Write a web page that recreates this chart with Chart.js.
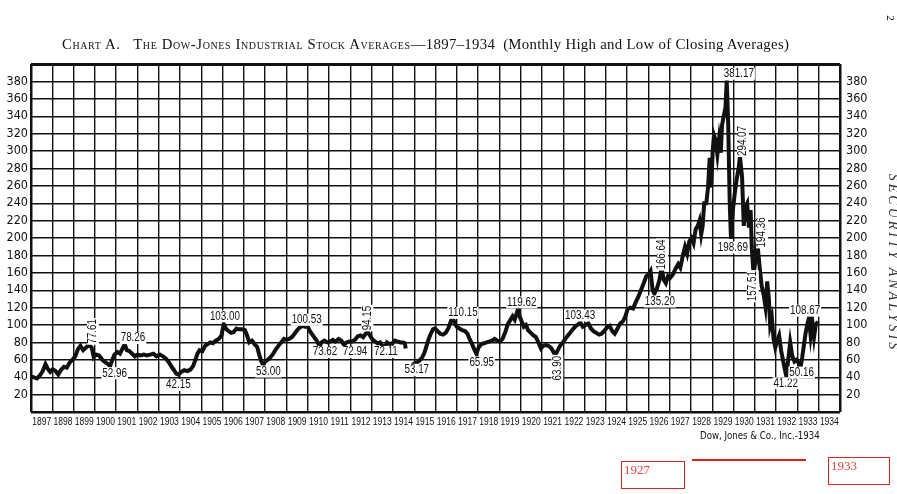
<!DOCTYPE html>
<html>
<head>
<meta charset="utf-8">
<script src="https://cdn.jsdelivr.net/npm/chart.js@4"></script>
<style>
  body { margin: 0; background: #fff; }
  #caixa { position: absolute; left: 0; top: 0; width: 897px; height: 494px; }
  #titulo { position: absolute; left: 62px; top: 36px; font: 14.8px 'Liberation Serif', serif; white-space: nowrap; color: #111; letter-spacing: 0.3px; }
  #titulo .sc { font-variant: small-caps; letter-spacing: 0.6px; }
  #fonte { position: absolute; left: 700px; top: 430px; font: 9.6px 'DejaVu Sans Condensed', sans-serif; color: #111; }
  #livro { position: absolute; left: 893px; top: 263px; transform: translate(-50%, -50%) rotate(90deg); font: italic 14px 'Liberation Serif', serif; letter-spacing: 3px; white-space: nowrap; color: #333; }
  #pag { position: absolute; left: 888px; top: 12px; font: 11px 'Liberation Serif', serif; transform: rotate(90deg); }
  .verm { position: absolute; border: 1.5px solid #d22; color: #d44; font: 13px 'Liberation Serif', serif; line-height: 13px; padding: 1px 2px; box-sizing: border-box; }
  #linha { position: absolute; left: 692px; top: 459px; width: 114px; height: 1.5px; background: #d22; }
</style>
</head>
<body>
<div id="caixa"><canvas id="meuGrafico"></canvas></div>
<div id="titulo"><span class="sc">Chart A.&nbsp;&nbsp; The Dow-Jones Industrial Stock Averages</span>—1897–1934&nbsp; (Monthly High and Low of Closing Averages)</div>
<div id="fonte">Dow, Jones &amp; Co., Inc.-1934</div>
<div id="livro">SECURITY ANALYSIS</div>
<div id="pag">2</div>
<div class="verm" style="left:621px;top:461px;width:64px;height:28px;">1927</div>
<div id="linha"></div>
<div class="verm" style="left:828px;top:457px;width:62px;height:28px;">1933</div>
<script>
// eixo y: 0 ate 400, rotulos de 20 em 20
var yMin = 0, yMax = 400
var anoIni = 1897, anoFim = 1935

// datas em ano decimal e fechamento (null = bolsa fechada em 1914)
var anos = [
  1897.00, 1897.12, 1897.28, 1897.42, 1897.55, 1897.68, 1897.78, 1897.90,
  1898.02, 1898.15, 1898.28, 1898.40, 1898.55, 1898.68, 1898.82, 1898.95,
  1899.08, 1899.20, 1899.32, 1899.45, 1899.58, 1899.72, 1899.85, 1899.95,
  1900.05, 1900.20, 1900.35, 1900.50, 1900.62, 1900.72, 1900.82, 1900.92,
  1901.05, 1901.18, 1901.32, 1901.40, 1901.50, 1901.62, 1901.75, 1901.88,
  1902.00, 1902.15, 1902.30, 1902.45, 1902.60, 1902.75, 1902.90,
  1903.05, 1903.20, 1903.35, 1903.48, 1903.60, 1903.72, 1903.82, 1903.92,
  1904.05, 1904.20, 1904.35, 1904.50, 1904.62, 1904.72, 1904.82, 1904.92,
  1905.05, 1905.18, 1905.30, 1905.42, 1905.55, 1905.68, 1905.82, 1905.95,
  1906.05, 1906.15, 1906.28, 1906.40, 1906.52, 1906.65, 1906.78, 1906.92,
  1907.05, 1907.15, 1907.25, 1907.38, 1907.50, 1907.62, 1907.72, 1907.82, 1907.90,
  1908.00, 1908.12, 1908.25, 1908.38, 1908.50, 1908.62, 1908.75, 1908.88,
  1909.00, 1909.12, 1909.25, 1909.38, 1909.50, 1909.62, 1909.75, 1909.88,
  1910.00, 1910.08, 1910.18, 1910.30, 1910.42, 1910.55, 1910.65, 1910.78, 1910.92,
  1911.05, 1911.18, 1911.30, 1911.45, 1911.58, 1911.70, 1911.82, 1911.95,
  1912.08, 1912.22, 1912.35, 1912.48, 1912.60, 1912.72, 1912.82, 1912.92,
  1913.02, 1913.15, 1913.28, 1913.40, 1913.50, 1913.60, 1913.72, 1913.85, 1913.98,
  1914.10, 1914.22, 1914.35, 1914.48, 1914.56, 1914.60, 1914.75, 1914.92,
  1915.02, 1915.15, 1915.28, 1915.38, 1915.48, 1915.58, 1915.68, 1915.78, 1915.88, 1915.98,
  1916.10, 1916.22, 1916.35, 1916.48, 1916.60, 1916.72, 1916.80, 1916.90,
  1917.00, 1917.12, 1917.25, 1917.38, 1917.50, 1917.60, 1917.72, 1917.82, 1917.92,
  1918.02, 1918.15, 1918.28, 1918.40, 1918.52, 1918.65, 1918.78, 1918.90,
  1919.02, 1919.15, 1919.28, 1919.40, 1919.52, 1919.62, 1919.72, 1919.82, 1919.88, 1919.95,
  1920.05, 1920.15, 1920.25, 1920.35, 1920.48, 1920.60, 1920.72, 1920.85, 1920.95,
  1921.05, 1921.18, 1921.30, 1921.42, 1921.52, 1921.62, 1921.72, 1921.85, 1921.98,
  1922.10, 1922.22, 1922.35, 1922.48, 1922.60, 1922.72, 1922.80, 1922.92,
  1923.05, 1923.18, 1923.30, 1923.42, 1923.55, 1923.68, 1923.80, 1923.92,
  1924.05, 1924.18, 1924.30, 1924.42, 1924.55, 1924.68, 1924.80, 1924.92,
  1925.02, 1925.15, 1925.28, 1925.40, 1925.52, 1925.65, 1925.78, 1925.90,
  1926.00, 1926.10, 1926.20, 1926.28, 1926.40, 1926.52, 1926.62, 1926.72, 1926.82, 1926.92,
  1927.02, 1927.15, 1927.28, 1927.40, 1927.50, 1927.62, 1927.72, 1927.82, 1927.92,
  1928.02, 1928.12, 1928.22, 1928.32, 1928.40, 1928.48, 1928.55, 1928.62, 1928.72, 1928.80, 1928.88, 1928.95,
  1929.02, 1929.08, 1929.16, 1929.24, 1929.32, 1929.40, 1929.46, 1929.54, 1929.62, 1929.68, 1929.75, 1929.82, 1929.88, 1929.96,
  1930.05, 1930.15, 1930.25, 1930.30, 1930.40, 1930.48, 1930.56, 1930.64, 1930.72, 1930.80, 1930.86, 1930.94,
  1931.02, 1931.12, 1931.22, 1931.32, 1931.42, 1931.50, 1931.58, 1931.66, 1931.72, 1931.80, 1931.88, 1931.96,
  1932.05, 1932.14, 1932.24, 1932.32, 1932.40, 1932.48, 1932.56, 1932.66, 1932.76, 1932.86, 1932.96,
  1933.06, 1933.14, 1933.22, 1933.30, 1933.38, 1933.46, 1933.54, 1933.62, 1933.70, 1933.78, 1933.86, 1933.96
]
var dow = [
  40.5, 40, 38.5, 42, 47, 55, 50, 46,
  49, 47, 43, 48, 52, 51, 57, 60,
  64, 72, 76, 71, 74, 77, 74, 63,
  66, 65, 60, 57, 55, 53, 60, 66,
  69, 67, 74, 78, 71, 70, 67, 64,
  66, 65, 66, 65, 66, 67, 64,
  66, 64, 61, 57, 52, 48, 44, 43,
  46, 48, 47, 49, 53, 60, 67, 71,
  70, 76, 78, 80, 79, 82, 84, 88,
  101, 96, 93, 91, 92, 96, 95, 95,
  94, 88, 80, 82, 78, 75, 66, 58, 54,
  58, 60, 63, 67, 72, 76, 80, 84,
  83, 84, 86, 90, 94, 97, 99, 98,
  98, 94, 90, 86, 82, 76, 80, 82, 80,
  81, 83, 81, 84, 82, 77, 80, 81,
  81, 83, 87, 88, 86, 90, 92, 88,
  84, 81, 79, 80, 76, 73, 80, 78, 79,
  82, 81, 80, 80, 79, 73, null, 54,
  56, 57, 60, 63, 68, 76, 84, 90, 95, 96,
  93, 90, 89, 91, 96, 104, 110, 102,
  98, 96, 94, 93, 90, 84, 78, 72, 67,
  74, 78, 79, 80, 81, 82, 84, 82,
  81, 84, 92, 101, 106, 110, 106, 114, 119, 110,
  104, 98, 100, 94, 91, 88, 86, 79, 73,
  76, 77, 76, 74, 70, 65, 70, 76, 80,
  84, 88, 92, 96, 99, 101, 103, 98,
  100, 102, 96, 93, 91, 89, 90, 93,
  97, 99, 93, 90, 96, 102, 104, 110,
  118, 120, 119, 126, 132, 140, 148, 156,
  158, 162, 140, 136, 142, 152, 166, 152, 148, 156,
  154, 158, 165, 170, 166, 180, 190, 182, 196,
  200, 194, 210, 214, 220, 204, 214, 240, 240, 258, 292, 258,
  300, 318, 312, 296, 314, 298, 330, 340, 350, 381, 330, 240, 199, 230,
  250, 268, 282, 294, 270, 214, 236, 240, 212, 232, 188, 158,
  172, 194, 168, 145, 134, 121, 150, 130, 100, 108, 84, 74,
  82, 88, 70, 60, 50, 41, 58, 80, 64, 58, 60,
  56, 50, 62, 76, 90, 100, 108, 88, 104, 86, 100, 104
]

// rotulos escritos no grafico: texto, ano, valor, vertical?
var notasTexto = ['77.61', '52.96', '78.26', '42.15', '103.00', '53.00', '100.53', '73.62', '72.94', '94.15', '72.11',
  '53.17', '110.15', '65.95', '119.62', '63.90', '103.43', '166.64', '135.20', '381.17', '294.07', '198.69',
  '194.36', '157.51', '41.22', '50.16', '108.67']
var notasAno = [1899.91, 1900.93, 1901.79, 1903.92, 1906.11, 1908.15, 1909.95, 1910.81, 1912.22, 1912.8, 1913.67,
  1915.12, 1917.29, 1918.17, 1920.05, 1921.72, 1922.79, 1926.64, 1926.54, 1930.25, 1930.44, 1929.97,
  1931.34, 1930.9, 1932.45, 1933.2, 1933.36]
var notasValor = [92.6, 44.6, 85, 31, 110, 46.5, 106, 69, 69, 108, 69,
  48.5, 114, 57, 126, 50.4, 111, 181, 127, 388.8, 311.5, 189,
  206.5, 144.6, 33, 45.3, 116.5]
var notasVert = [1, 0, 0, 0, 0, 0, 0, 0, 0, 1, 0,
  0, 0, 0, 0, 1, 0, 1, 0, 0, 1, 0,
  1, 1, 0, 0, 0]

var pontos = anos.map(function (a, i) { return { x: a, y: dow[i] } })

var fonteEixo = "'DejaVu Sans Condensed', sans-serif"

// textos apertados (fonte estreita) desenhados com escala horizontal
function textoEstreito(c, txt, x, y, esc) {
  c.save()
  c.translate(x, y)
  c.scale(esc, 1)
  c.fillText(txt, 0, 0)
  c.restore()
}

var pluginNotas = {
  id: 'notas',
  afterDatasetsDraw: function (chart) {
    var c = chart.ctx
    var sx = chart.scales.x, sy = chart.scales.y
    c.save()
    c.textAlign = 'center'
    c.textBaseline = 'middle'
    c.font = "12px 'Liberation Sans', sans-serif"
    for (var i = 0; i < notasTexto.length; i++) {
      var px = sx.getPixelForValue(notasAno[i])
      var py = sy.getPixelForValue(notasValor[i])
      c.save()
      c.translate(px, py)
      if (notasVert[i]) c.rotate(-Math.PI / 2)
      // fundo branco atras do texto como no original
      var w = c.measureText(notasTexto[i]).width * 0.82
      c.fillStyle = '#fff'
      c.fillRect(-w / 2 - 1, -6, w + 2, 12)
      c.fillStyle = '#111'
      textoEstreito(c, notasTexto[i], 0, 0, 0.82)
      c.restore()
    }
    // anos no centro de cada coluna
    c.font = "11.5px 'Liberation Sans', sans-serif"
    c.textBaseline = 'top'
    c.fillStyle = '#111'
    for (var a = anoIni; a < anoFim; a++) {
      textoEstreito(c, String(a), sx.getPixelForValue(a + 0.5), sx.top + 4, 0.74)
    }
    c.restore()
  }
}

var ctx1 = document.getElementById('meuGrafico').getContext('2d');
var meuGrafico = new Chart(ctx1, {
    type: 'line',
    data: {
        datasets: [{
            label: 'Dow-Jones Industrial',
            data: pontos,
            borderColor: '#111',
            backgroundColor: '#111',
            borderWidth: 4,
            pointRadius: 0,
            tension: 0,
            spanGaps: false
        }]
    },
    options: {
        responsive: true,
        maintainAspectRatio: false,
        animation: false,
        layout: { padding: { top: 64, left: 0, right: 0, bottom: 0 } },
        plugins: { legend: { display: false }, tooltip: { enabled: false } },
        scales: {
            x: {
                type: 'linear',
                min: anoIni,
                max: anoFim,
                afterFit: function (s) { s.height = 82 },
                afterBuildTicks: function (s) {
                    var t = []
                    for (var a = anoIni; a <= anoFim; a++) t.push({ value: a })
                    s.ticks = t
                },
                grid: {
                    color: '#111',
                    lineWidth: function (c) { return (c.tick && (c.tick.value === anoIni || c.tick.value === anoFim)) ? 2.5 : 1.4 },
                    drawTicks: false
                },
                border: { display: false },
                ticks: { display: false, autoSkip: false }
            },
            y: {
                position: 'left',
                min: yMin,
                max: yMax,
                afterFit: function (s) { s.width = 31 },
                grid: {
                    color: '#111',
                    lineWidth: function (c) { return (c.tick && c.tick.value === yMax) ? 3 : (c.tick && c.tick.value === yMin ? 2.5 : 1.4) },
                    drawTicks: false
                },
                border: { display: false },
                ticks: {
                    stepSize: 20,
                    autoSkip: false,
                    padding: 3,
                    color: '#111',
                    font: { family: fonteEixo, size: 12.5 },
                    callback: function (v) { return (v === yMin || v === yMax) ? '' : String(v) }
                }
            },
            y2: {
                position: 'right',
                min: yMin,
                max: yMax,
                afterFit: function (s) { s.width = 57 },
                grid: { display: false, drawTicks: false },
                border: { display: false },
                ticks: {
                    stepSize: 20,
                    autoSkip: false,
                    padding: 6,
                    color: '#111',
                    font: { family: fonteEixo, size: 12.5 },
                    callback: function (v) { return (v === yMin || v === yMax) ? '' : String(v) }
                }
            }
        }
    },
    plugins: [pluginNotas]
});
</script>
</body>
</html>
